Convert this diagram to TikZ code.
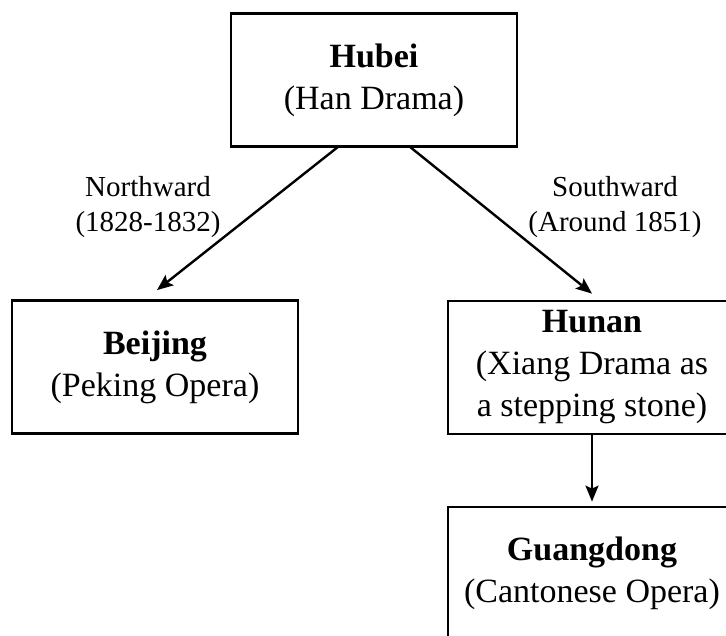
\documentclass[tikz,border=0pt]{standalone}
\usepackage{fontspec}
\setmainfont{Liberation Serif}
\usetikzlibrary{arrows.meta}
\begin{document}
\begin{tikzpicture}[x=1pt,y=-1pt,
  region/.style={draw=black, line width=2.8pt, minimum width=286pt, minimum height=133pt,
    align=center, inner sep=0pt, font=\fontsize{34}{42}\selectfont},
  routelabel/.style={align=center, inner sep=0pt, font=\fontsize{29}{35}\selectfont},
  arr/.style={line width=2.4pt, -{Stealth[length=16pt,width=13pt,inset=3pt]}}]
\useasboundingbox (0,0) rectangle (726,636);
\begin{scope}
\clip (0,0) rectangle (726,636);
\node[region] (hubei) at (374,80) {\textbf{Hubei}\\(Han Drama)};
\node[region] (beijing) at (155,367) {\textbf{Beijing}\\(Peking Opera)};
\node[region, minimum width=288pt] (hunan) at (592,367.5) {\textbf{Hunan}\\(Xiang Drama as\\a stepping stone)};
\node[region, minimum width=288pt] (guangdong) at (592,573.5) {\textbf{Guangdong}\\(Cantonese Opera)};
\end{scope}
\node[routelabel] (north) at (148,207) {Northward\\(1828-1832)};
\node[routelabel] (south) at (615,207) {Southward\\(Around 1851)};
\draw[arr] ([xshift=-36pt,yshift=1pt]hubei.south) -- ([xshift=2pt,yshift=9pt]beijing.north);
\draw[arr] ([xshift=36pt,yshift=1pt]hubei.south) -- ([yshift=6pt]hunan.north);
\draw[arr] ([yshift=1pt]hunan.south) -- ([yshift=4pt]guangdong.north);
\end{tikzpicture}
\end{document}
